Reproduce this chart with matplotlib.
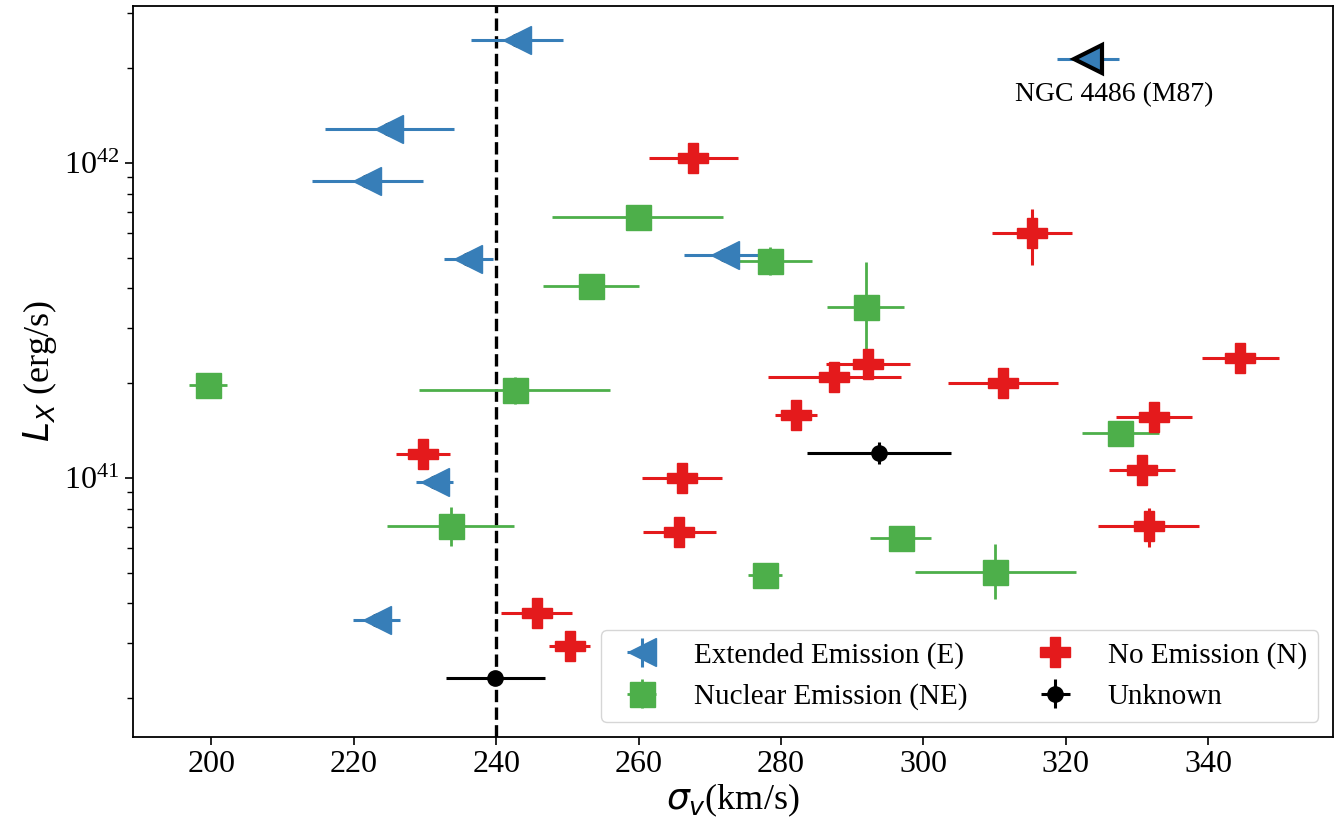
import matplotlib
matplotlib.use("Agg")
import matplotlib.pyplot as plt
import numpy as np

plt.rcParams['font.family'] = ['Liberation Serif', 'DejaVu Serif']
plt.rcParams['mathtext.fontset'] = 'dejavusans'

# Extended Emission (E)
sig_E = [242.9, 225.0, 221.9, 236.1, 272.1, 231.4, 223.2]
sig_E_err = [6.5, 9.1, 7.8, 3.4, 5.7, 2.6, 3.3]
L_E = [2.46e42, 1.28e42, 8.75e41, 4.95e41, 5.09e41, 9.73e40, 3.53e40]
L_E_lo = [1.0e41, 5.0e40, 3.5e40, 2.0e40, 2.0e40, 4.0e39, 1.5e39]
L_E_hi = [1.0e41, 5.0e40, 3.5e40, 2.0e40, 2.0e40, 4.0e39, 1.5e39]

# M87
sig_M87 = [323.1]
sig_M87_err = [4.3]
L_M87 = [2.14e42]
L_M87_err = [8.0e40]
M87_label = "NGC 4486 (M87)"

# Nuclear Emission (NE)
sig_NE = [259.9, 278.5, 253.3, 291.9, 199.5, 242.6, 327.6, 233.6, 296.8, 277.7, 310.1]
sig_NE_err = [12.0, 5.8, 6.7, 5.4, 2.7, 13.4, 5.4, 8.9, 4.3, 2.4, 11.3]
L_NE = [6.76e41, 4.88e41, 4.08e41, 3.49e41, 1.98e41, 1.90e41, 1.39e41, 7.02e40, 6.43e40, 4.93e40, 5.04e40]
L_NE_lo = [2.5e40, 4.6e40, 1.5e40, 0.94e41, 7.0e39, 1.8e40, 5.0e39, 0.94e40, 2.5e39, 2.0e39, 0.92e40]
L_NE_hi = [2.5e40, 5.3e40, 1.5e40, 1.36e41, 7.0e39, 2.0e40, 5.0e39, 1.09e40, 2.5e39, 2.0e39, 1.12e40]

# No Emission (N)
sig_N = [267.7, 315.2, 292.2, 287.5, 311.2, 282.1, 266.1, 265.7, 344.5, 332.4, 330.7, 331.6, 229.7, 245.7, 250.3]
sig_N_err = [6.3, 5.6, 5.9, 9.3, 7.7, 2.9, 5.6, 5.1, 5.4, 5.3, 4.6, 7.1, 3.8, 5.0, 2.9]
L_N = [1.04e42, 6.0e41, 2.30e41, 2.10e41, 2.00e41, 1.58e41, 1.00e41, 6.74e40, 2.40e41, 1.56e41, 1.06e41, 7.02e40, 1.19e41, 3.73e40, 2.92e40]
L_N_lo = [3.0e40, 1.24e41, 8.0e39, 7.0e39, 7.0e39, 5.0e39, 3.0e39, 2.5e39, 8.0e39, 5.0e39, 3.5e39, 1.0e40, 4.0e39, 1.2e39, 1.0e39]
L_N_hi = [3.0e40, 1.15e41, 8.0e39, 7.0e39, 7.0e39, 5.0e39, 3.0e39, 2.5e39, 8.0e39, 5.0e39, 3.5e39, 1.0e40, 4.0e39, 1.2e39, 1.0e39]

# Unknown
sig_U = [293.8, 239.9]
sig_U_err = [10.1, 6.9]
L_U = [1.20e41, 2.32e40]
L_U_lo = [9.0e39, 8.0e38]
L_U_hi = [1.0e40, 8.0e38]

sigma_cut = 240
xticks = [200, 220, 240, 260, 280, 300, 320, 340]

c_E = '#377eb8'
c_NE = '#4daf4a'
c_N = '#e41a1c'
c_U = 'black'

fig = plt.figure(figsize=(13.35, 8.24), dpi=100)
ax = fig.add_axes([0.0996, 0.106, 0.8989, 0.8867])

ax.set_yscale('log')

# black dots behind the E markers
ax.plot(sig_E, L_E, 'o', color='black', ms=9, zorder=1.5, linestyle='none')

ax.errorbar(sig_E, L_E, xerr=sig_E_err, yerr=[L_E_lo, L_E_hi], fmt='<', color=c_E,
            ms=20.5, elinewidth=2.2, capsize=0, zorder=2, label='Extended Emission (E)')
ax.errorbar(sig_NE, L_NE, xerr=sig_NE_err, yerr=[L_NE_lo, L_NE_hi], fmt='s', color=c_NE,
            ms=18, elinewidth=2.0, capsize=0, zorder=2, label='Nuclear Emission (NE)')
ax.errorbar(sig_N, L_N, xerr=sig_N_err, yerr=[L_N_lo, L_N_hi], fmt='P', color=c_N,
            ms=21.5, elinewidth=2.2, capsize=0, zorder=2, label='No Emission (N)')
ax.errorbar(sig_U, L_U, xerr=sig_U_err, yerr=[L_U_lo, L_U_hi], fmt='o', color=c_U,
            ms=11, elinewidth=2.2, capsize=0, zorder=2, label='Unknown')
ax.errorbar(sig_M87, L_M87, xerr=sig_M87_err, yerr=L_M87_err, fmt='<', color=c_E,
            mec='black', mew=3, ms=20, elinewidth=2.2, capsize=0, zorder=3)
ax.annotate(M87_label, (sig_M87[0], L_M87[0]), xytext=(19, -26),
            textcoords='offset points', ha='center', va='center', fontsize=20)

ax.axvline(sigma_cut, color='black', linestyle='--', lw=2.4, zorder=1)

ax.set_xlim(189.0, 357.5)
ax.set_ylim(1.51e40, 3.15e42)
ax.set_xticks(xticks)
ax.tick_params(axis='both', which='major', labelsize=23, length=6, width=1.2)
ax.tick_params(axis='y', which='minor', length=4, width=1.0)
for s in ax.spines.values():
    s.set_linewidth(1.3)

ax.set_xlabel(r'$\sigma_v$(km/s)', fontsize=26, labelpad=2)
ax.set_ylabel(r'$L_X$ (erg/s)', fontsize=26)

ax.legend(loc='lower right', ncol=2, fontsize=21, columnspacing=2.0)

fig.savefig('out.png', dpi=100)
